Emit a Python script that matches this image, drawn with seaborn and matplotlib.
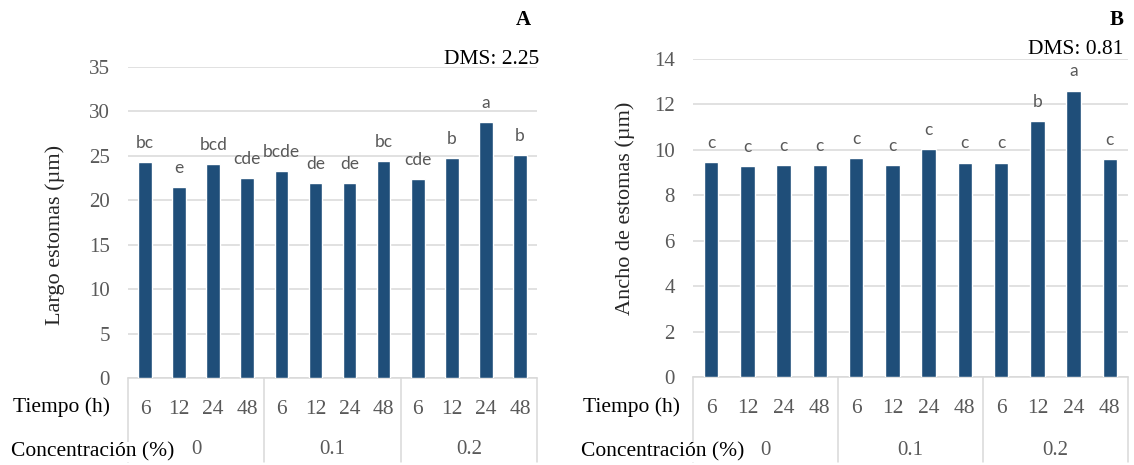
import matplotlib
matplotlib.use("Agg")
import matplotlib.pyplot as plt
import seaborn as sns
import pandas as pd

# ---- data ----
tiempo = ["6", "12", "24", "48"]
concentracion = ["0", "0.1", "0.2"]
largo = [24.3, 21.5, 24.1, 22.5, 23.3, 21.9, 21.9, 24.4, 22.4, 24.8, 28.8, 25.1]
largo_letras = ["bc", "e", "bcd", "cde", "bcde", "de", "de", "bc", "cde", "b", "a", "b"]
ancho = [9.48, 9.30, 9.35, 9.35, 9.63, 9.35, 10.04, 9.44, 9.44, 11.26, 12.61, 9.59]
ancho_letras = ["c", "c", "c", "c", "c", "c", "c", "c", "c", "b", "a", "c"]

sns.set_theme(style="white")
SERIF = ["Liberation Serif", "DejaVu Serif"]
SANS = ["Lato", "DejaVu Sans"]
plt.rcParams["font.family"] = SERIF

BAR = "#1f4e79"
GRID = "#d9d9d9"
GREY = "#595959"

W, H = 1134, 465
fig = plt.figure(figsize=(W / 100, H / 100), dpi=100)

cats = [f"{c}|{t}" for c in concentracion for t in tiempo]
tlabels = [t for c in concentracion for t in tiempo]

ROW1_Y = 407
ROW2_Y = 452


def panel(left, right, top, bottom, values, letras, ymax, ystep, ylabel,
          ylab_x, ylab_y, tag, dms, tag_x, tag_y, dms_x, dms_y, row_x):
    ax = fig.add_axes([left / W, 1 - bottom / H, (right - left) / W, (bottom - top) / H])
    df = pd.DataFrame({"cat": cats, "val": values})
    sns.barplot(data=df, x="cat", y="val", order=cats, color=BAR, width=0.40,
                saturation=1, ax=ax, zorder=3)
    ax.set_ylim(0, ymax)
    ax.set_xlim(-0.5, len(cats) - 0.5)
    ax.set_yticks(range(0, ymax + 1, ystep))
    ax.yaxis.grid(True, color=GRID, lw=1.1, zorder=0)
    ax.set_axisbelow(True)
    for s in ["top", "right", "left"]:
        ax.spines[s].set_visible(False)
    ax.spines["bottom"].set_color(GRID)
    ax.spines["bottom"].set_linewidth(1.1)
    ax.tick_params(axis="y", length=0, pad=13, labelsize=15, labelcolor=GREY)
    ax.set_xticks(range(len(cats)))
    ax.set_xticklabels(tlabels)
    ax.tick_params(axis="x", length=0, pad=15.5, labelsize=15.5, labelcolor=GREY)
    ax.set_xlabel("")
    ax.set_ylabel(ylabel, fontsize=16, color="#262626")
    ax.yaxis.set_label_coords(ylab_x, ylab_y)

    for i, (v, l) in enumerate(zip(values, letras)):
        ax.annotate(l, (i, v), xytext=(0, 8), textcoords="offset points",
                    ha="center", va="bottom", fontsize=12.5, color=GREY,
                    family=SANS)

    hpx = bottom - top
    sep_frac = (H - 3 - bottom) / hpx
    trans = ax.get_xaxis_transform()
    for xs in [-0.5, 3.5, 7.5, 11.5]:
        ax.plot([xs, xs], [0, -sep_frac], transform=trans, color=GRID,
                lw=1.1, clip_on=False, zorder=1)
    for g in range(len(concentracion)):
        ax.annotate(concentracion[g], (g * 4 + 1.5, 0), xycoords=trans,
                    xytext=(0, -(ROW2_Y - 2 - bottom) * 0.72), textcoords="offset points",
                    ha="center", va="center", fontsize=15, color=GREY)

    fig.text(row_x / W, 1 - ROW1_Y / H, "Tiempo (h)", ha="left", va="center",
             fontsize=15.5, color="black")
    fig.text((row_x - 2) / W, 1 - ROW2_Y / H, "Concentración (%)", ha="left",
             va="center", fontsize=15.5, color="black", zorder=5,
             bbox=dict(facecolor="white", edgecolor="none", pad=0.5))
    fig.text(tag_x / W, 1 - tag_y / H, tag, ha="right", va="center",
             fontsize=15, fontweight="bold", color="black")
    fig.text(dms_x / W, 1 - dms_y / H, dms, ha="right", va="center",
             fontsize=15.5, color="black")
    return ax


panel(128, 537, 67, 378, largo, largo_letras, 35, 5, "Largo estomas (µm)",
      -0.154, 0.46, "A", "DMS: 2.25", 531, 20, 539, 59, 13)
panel(693, 1128, 59, 377, ancho, ancho_letras, 14, 2, "Ancho de estomas (µm)",
      -0.133, 0.53, "B", "DMS: 0.81", 1124, 20, 1123, 49, 583)

fig.savefig("out.png", dpi=100, facecolor="white")
